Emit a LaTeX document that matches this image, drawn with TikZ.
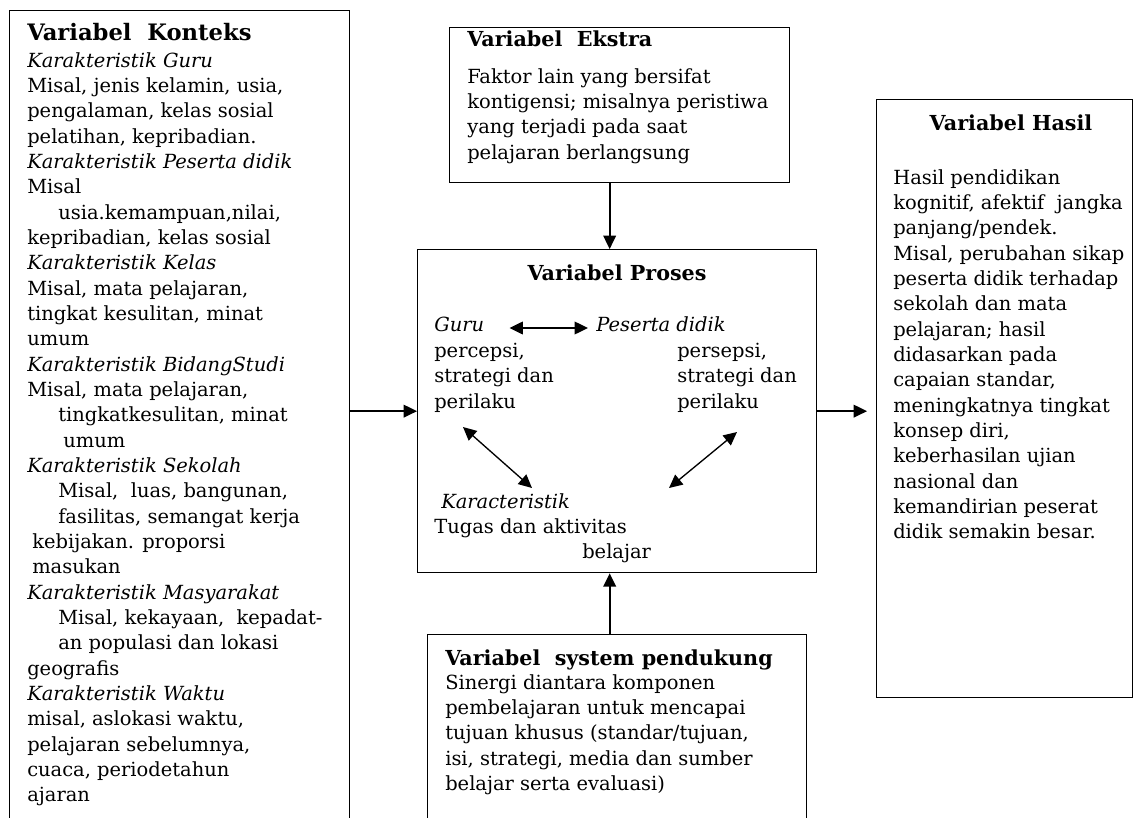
\documentclass[tikz,border=0pt]{standalone}
\usepackage{fontspec}
\setmainfont{DejaVu Serif}
\usetikzlibrary{arrows.meta,calc,positioning}

\begin{document}
\begin{tikzpicture}[
  x=0.75pt, y=-0.75pt,
  > = {Triangle[length=10pt,width=9.5pt]},
  panel/.style = {draw, line width=1pt, anchor=north west, inner sep=0pt},
  txt/.style = {anchor=north west, inner sep=0pt, align=left, font=\fontsize{14.6pt}{19pt}\selectfont},
  judul/.style = {inner sep=0pt, anchor=base west, font=\fontsize{15.5pt}{19pt}\selectfont\bfseries},
  flow/.style = {->, line width=1.3pt},
  twoway/.style = {<->, line width=1pt}
  ]
	\useasboundingbox (0,0) rectangle (1134,817);
	\clip (0,0) rectangle (1134,817);

	% kotak
	\node[panel, minimum width=255pt, minimum height=615pt] (konteks) at (9,10) {};
	\node[panel, minimum width=255pt, minimum height=116.25pt] (ekstra) at (449,27) {};
	\node[panel, minimum width=299.25pt, minimum height=242.25pt] (proses) at (417,249) {};
	\node[panel, minimum width=284.25pt, minimum height=147pt] (pendukung) at (427,634) {};
	\node[panel, minimum width=192pt, minimum height=448.5pt] (hasil) at (876,99) {};

	\node[judul, font=\fontsize{17pt}{19pt}\selectfont\bfseries] (konteksjudul) at (27,41) {Variabel~ Konteks};
	\node[txt] (konteksisi) at (27,52) {\textit{Karakteristik Guru}\\
		Misal, jenis kelamin, usia,\\
		pengalaman, kelas sosial\\
		pelatihan, kepribadian.\\
		\textit{Karakteristik Peserta didik}\\
		Misal\\
		\hspace*{23.25pt}usia.kemampuan,nilai,\\
		kepribadian, kelas sosial\\
		\textit{Karakteristik Kelas}\\
		Misal, mata pelajaran,\\
		tingkat kesulitan, minat\\
		umum\\
		\textit{Karakteristik BidangStudi}\\
		Misal, mata pelajaran,\\
		\hspace*{23.25pt}tingkatkesulitan, minat\\
		\hspace*{27pt}umum\\
		\textit{Karakteristik Sekolah}\\
		\hspace*{23.25pt}Misal,~ luas, bangunan,\\
		\hspace*{23.25pt}fasilitas, semangat kerja\\
		\hspace*{3.75pt}kebijakan. proporsi\\
		\hspace*{3.75pt}masukan\\
		\textit{Karakteristik Masyarakat}\\
		\hspace*{23.25pt}Misal, kekayaan,~ kepadat-\\
		\hspace*{23.25pt}an populasi dan lokasi\\
		geografis\\
		\textit{Karakteristik Waktu}\\
		misal, aslokasi waktu,\\
		pelajaran sebelumnya,\\
		cuaca, periodetahun\\
		ajaran};

	\node[judul] (ekstrajudul) at (467,47) {Variabel~ Ekstra};
	\node[txt] (ekstraisi) at (467,68) {Faktor lain yang bersifat\\
		kontigensi; misalnya peristiwa\\
		yang terjadi pada saat\\
		pelajaran berlangsung};

	\node[judul, anchor=base] (prosesjudul) at (617,280) {Variabel Proses};
	\node[txt, anchor=base west, font=\fontsize{14.6pt}{19pt}\selectfont\itshape] (guru) at (434,331) {Guru};
	\node[txt, anchor=base west, font=\fontsize{14.6pt}{19pt}\selectfont\itshape] (peserta) at (596,331) {Peserta didik};
	\node[txt] (guruisi) at (434,343) {percepsi,\\ strategi dan\\ perilaku};
	\node[txt] (pesertaisi) at (677,343) {persepsi,\\ strategi dan\\ perilaku};
	\node[txt] (tugas) at (434,493) {\hspace*{5.25pt}\textit{Karacteristik}\\
		Tugas dan aktivitas\\
		\hspace*{111pt}belajar};

	\node[judul] (pendukungjudul) at (445,665) {Variabel~ system pendukung};
	\node[txt] (pendukungisi) at (445,674) {Sinergi diantara komponen\\
		pembelajaran untuk mencapai\\
		tujuan khusus (standar/tujuan,\\
		isi, strategi, media dan sumber\\
		belajar serta evaluasi)};

	\node[judul, anchor=base] (hasiljudul) at (1011,130) {Variabel Hasil};
	\node[txt] (hasilisi) at (893,169) {Hasil pendidikan\\
		kognitif, afektif~ jangka\\
		panjang/pendek.\\
		Misal, perubahan sikap\\
		peserta didik terhadap\\
		sekolah dan mata\\
		pelajaran; hasil\\
		didasarkan pada\\
		capaian standar,\\
		meningkatnya tingkat\\
		konsep diri,\\
		keberhasilan ujian\\
		nasional dan\\
		kemandirian peserat\\
		didik semakin besar.};

	% panah antar kotak
	\draw[flow] (konteks.east |- proses.west) -- (proses.west);
	\draw[flow, shorten >=6.75pt] (proses.east) -- (proses.east -| hasil.west);
	\draw[flow] ([xshift=-7.5pt]ekstra.south) -- ([xshift=-7.5pt]ekstra.south |- proses.north);
	\draw[flow] ([xshift=-5.6pt]pendukung.north) -- ([xshift=-5.6pt]pendukung.north |- proses.south);

	% panah di dalam proses
	\coordinate (guruujung) at (463,427);
	\coordinate (tugasujung) at (532,488);
	\coordinate (pesertaujung) at (737,432);
	\coordinate (kosongujung) at (669,488);
	\draw[twoway] ($(guru.base east)+(25,-3)$) -- ($(peserta.base west)+(-8,-3)$);
	\draw[twoway] (guruujung) -- (tugasujung);
	\draw[twoway] (pesertaujung) -- (kosongujung);

\end{tikzpicture}
\end{document}
